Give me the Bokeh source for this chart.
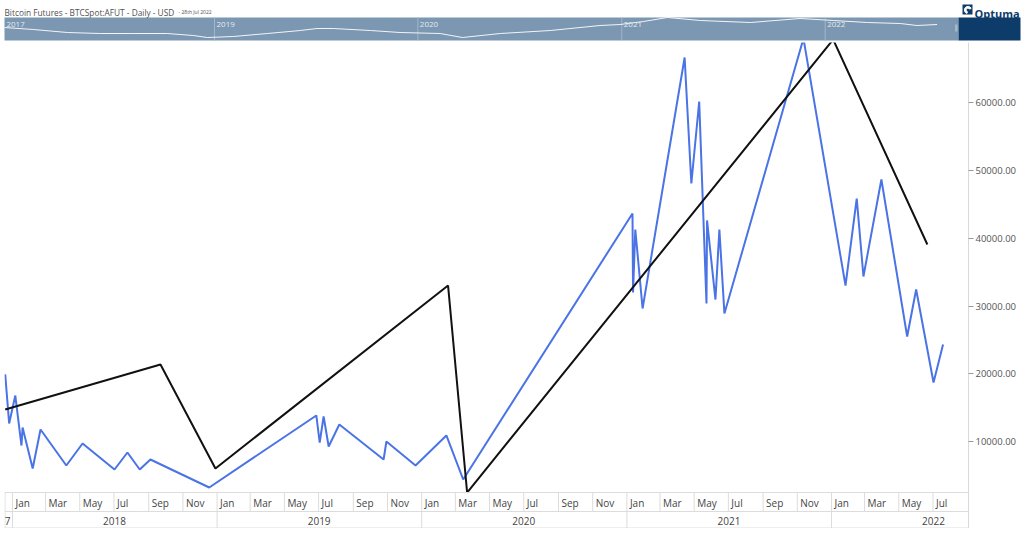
import pandas as pd
from bokeh.plotting import figure
from bokeh.models import Range1d, FixedTicker, PrintfTickFormatter, Span
from bokeh.layouts import column
from bokeh.core.properties import value
from bokeh.embed import file_html
from bokeh.resources import INLINE

# ---------------- data ----------------
title_text = "Bitcoin Futures - BTCSpot:AFUT - Daily - USD"
date_text = "- 28th Jul 2022"
logo_text = "Optuma"

blue_dates = ["2017-12-19", "2017-12-26", "2018-01-06", "2018-01-17", "2018-01-19",
              "2018-02-06", "2018-02-20", "2018-04-07", "2018-05-06", "2018-07-02",
              "2018-07-25", "2018-08-16", "2018-09-04", "2018-12-18", "2019-06-27",
              "2019-07-03", "2019-07-10", "2019-07-19", "2019-08-07", "2019-10-25",
              "2019-10-30", "2019-12-21", "2020-02-14", "2020-03-15", "2021-01-11",
              "2021-01-12", "2021-01-16", "2021-01-29", "2021-04-14", "2021-04-26",
              "2021-05-10", "2021-05-23", "2021-05-24", "2021-06-08", "2021-06-15",
              "2021-06-24", "2021-11-12", "2022-01-26", "2022-02-15", "2022-02-27",
              "2022-03-31", "2022-05-16", "2022-06-01", "2022-07-02", "2022-07-19"]
blue_values = [19900, 12660, 16790, 9410, 12070,
               6020, 11770, 6460, 9710, 5870,
               8380, 5870, 7340, 3210, 13840,
               9850, 13690, 9260, 12510, 7340,
               10000, 6460, 10890, 4390, 43660,
               32000, 41300, 29630, 66690, 48090,
               60190, 30370, 42630, 30960, 41300,
               28900, 69490, 33030, 45870, 34360,
               48680, 25500, 32440, 18710, 24320]

black_dates = ["2017-12-19", "2018-09-22", "2018-12-29", "2020-02-17",
               "2020-03-22", "2022-01-04", "2022-06-21"]
black_values = [14730, 21370, 6020, 33030, 2470, 69340, 39080]

# overview (navigator) series, relative index
nav_dates = ["2017-12-20", "2018-02-10", "2018-04-12", "2018-06-10", "2018-08-08",
             "2018-10-08", "2018-11-24", "2018-12-19", "2019-02-04", "2019-04-06",
             "2019-06-04", "2019-07-04", "2019-08-02", "2019-10-08", "2019-11-30",
             "2020-02-10", "2020-03-21", "2020-05-28", "2020-08-26", "2020-11-23",
             "2020-12-29", "2021-02-09", "2021-03-24", "2021-05-22", "2021-08-20",
             "2021-11-17", "2022-01-16", "2022-03-18", "2022-05-16", "2022-06-15",
             "2022-07-21"]
nav_index = [13, 11, 8, 7, 7, 7, 5, 3, 4, 7, 10, 12, 12, 10, 8, 7, 3, 7, 10, 15,
             16, 19, 23, 20, 18, 22, 20, 18, 17, 15, 16]
nav_year_labels = ["2017", "2019", "2020", "2021", "2022"]
nav_year_starts = ["2019-01-01", "2020-01-01", "2021-01-01", "2022-01-01"]

y_ticks = [10000, 20000, 30000, 40000, 50000, 60000]
month_names = ["Jan", "Mar", "May", "Jul", "Sep", "Nov"]
year_labels = ["7", "2018", "2019", "2020", "2021", "2022"]
year_starts = ["2018-01-01", "2019-01-01", "2020-01-01", "2021-01-01", "2022-01-01"]
year_mids = ["2018-07-02", "2019-07-02", "2020-07-01", "2021-07-02", "2022-07-02"]

# ---------------- styles ----------------
FONT = value("Open Sans")
BLUE = "#4a73e6"
NAV_BG = "#7b97b1"
NAVY = "#0d3c6b"
GRID = "#dcdcdc"

# ---------------- top strip: title, navigator, logo ----------------
base19 = pd.Timestamp("2019-01-01")
nav_x_start = base19 + pd.Timedelta(days=-384.1)
nav_x_end = base19 + pd.Timedelta(days=1453.8)

top = figure(width=1024, height=42, x_range=Range1d(0, 1024), y_range=Range1d(42, 0),
             x_axis_location=None, y_axis_location=None, toolbar_location=None,
             output_backend="svg", min_border=0, frame_align=False)
top.extra_x_ranges = {"navx": Range1d(nav_x_start, nav_x_end)}
top.extra_y_ranges = {"navy": Range1d(-2, 40)}
top.grid.grid_line_color = None
top.outline_line_color = None
top.background_fill_color = "white"
top.border_fill_color = "white"

top.quad(left=[4], right=[958], top=[17], bottom=[40], fill_color=NAV_BG, line_color=None)
top.quad(left=[958], right=[1020], top=[17], bottom=[40], fill_color=NAVY, line_color=None)
top.quad(left=[954.5], right=[957], top=[24], bottom=[31], fill_color="#a9b7c5", line_color=None)

sep = pd.to_datetime(nav_year_starts)
top.segment(x0=sep, y0=17, x1=sep, y1=40, x_range_name="navx",
            line_color="#a3b6c8", line_width=1)
top.line(pd.to_datetime(nav_dates), nav_index, x_range_name="navx", y_range_name="navy",
         line_color="#f2f5f8", line_width=1)
nav_label_x = [nav_dates[0]] + list(sep)
top.text(x=pd.to_datetime(nav_label_x), y=[24] * len(nav_year_labels), text=nav_year_labels,
         x_range_name="navx", x_offset=2, text_font=FONT, text_font_size="8px",
         text_color="#e3eaf1", text_baseline="alphabetic", text_align="left")

top.text(x=[4], y=[11.5], text=[title_text], text_font=FONT, text_font_size="8.3px",
         text_color="#505050", text_baseline="alphabetic", text_align="left")
top.text(x=[178], y=[11.5], text=[date_text], text_font=FONT, text_font_size="5px",
         text_color="#505050", text_baseline="alphabetic", text_align="left")

# logo
top.quad(left=[962], right=[972], top=[4], bottom=[14], fill_color=NAVY, line_color=None)
top.annular_wedge(x=[967.5], y=[9.5], inner_radius=1.8, outer_radius=3.6,
                  start_angle=0.5, end_angle=4.4, color="white")
top.text(x=[974], y=[13], text=[logo_text], text_font=FONT, text_font_size="11px",
         text_font_style="bold", text_color=NAVY, text_baseline="alphabetic",
         text_align="left")

# ---------------- main chart ----------------
base = pd.Timestamp("2018-01-01")
x_start = base + pd.Timedelta(days=-14.27)
x_end = base + pd.Timedelta(days=1705.4)

main = figure(frame_width=964, frame_height=486, x_range=Range1d(x_start, x_end),
              y_range=Range1d(-2842, 68902), x_axis_type="datetime",
              x_axis_location=None, y_axis_location="right",
              toolbar_location=None, output_backend="svg", frame_align=False,
              min_border_left=4, min_border_right=56, min_border_top=0, min_border_bottom=0)
main.extra_y_ranges = {"rows": Range1d(0, 486)}
main.grid.grid_line_color = None
main.outline_line_color = None
main.background_fill_color = "white"
main.border_fill_color = "white"

ax = main.yaxis[0]
ax.ticker = FixedTicker(ticks=y_ticks)
ax.formatter = PrintfTickFormatter(format="%.2f")
ax.major_label_text_font = "Open Sans"
ax.major_label_text_font_size = "9.5px"
ax.major_label_text_color = "#555555"
ax.major_tick_in = 0
ax.major_tick_out = 5
ax.major_tick_line_color = "#999999"
ax.minor_tick_line_color = None
ax.axis_line_color = "#d9d9d9"
ax.major_label_standoff = 2

# data lines
main.line(pd.to_datetime(blue_dates), blue_values, line_color=BLUE, line_width=2)
main.line(pd.to_datetime(black_dates), black_values, line_color="#111111", line_width=2)

# date axis rows (month row and year row)
for loc in (36, 17, 0.5):
    main.add_layout(Span(location=loc, dimension="width", y_range_name="rows",
                         line_color=GRID, line_width=1))
left_edge = [x_start + pd.Timedelta(days=0.9)]
main.segment(x0=left_edge, y0=0, x1=left_edge, y1=36, y_range_name="rows",
             line_color=GRID, line_width=1)

month_dates = pd.date_range("2018-01-01", "2022-07-01", freq="2MS")
month_text = [month_names[(d.month - 1) // 2] for d in month_dates]
main.segment(x0=month_dates, y0=17, x1=month_dates, y1=36, y_range_name="rows",
             line_color=GRID, line_width=1)
main.text(x=month_dates, y=[26] * len(month_dates), text=month_text, y_range_name="rows",
          x_offset=3, text_font=FONT, text_font_size="10px", text_color="#444444",
          text_baseline="middle", text_align="left")

ys = pd.to_datetime(year_starts)
main.segment(x0=ys, y0=0, x1=ys, y1=17, y_range_name="rows",
             line_color=GRID, line_width=1)
main.text(x=[ys[0]], y=[8], text=[year_labels[0]], y_range_name="rows", x_offset=-2,
          text_font=FONT, text_font_size="10px", text_color="#444444",
          text_baseline="middle", text_align="right")
main.text(x=pd.to_datetime(year_mids), y=[8] * len(year_mids), text=year_labels[1:],
          y_range_name="rows", text_font=FONT, text_font_size="10px",
          text_color="#444444", text_baseline="middle", text_align="center")

layout = column(top, main)
open("out.html", "w").write(file_html(layout, INLINE, "Bitcoin Futures"))
